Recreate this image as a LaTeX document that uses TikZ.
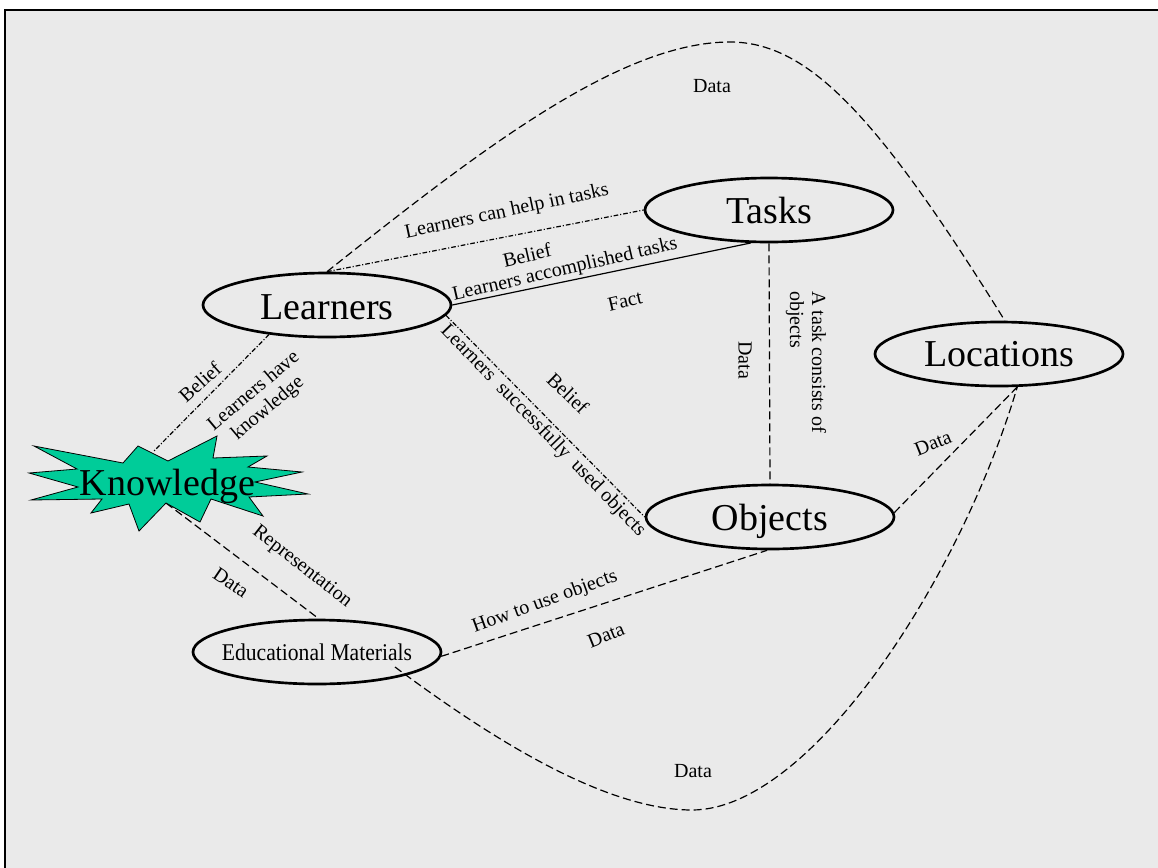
\documentclass[tikz,border=0pt]{standalone}
\usepackage{graphicx}
\usepackage{fontspec}
\setmainfont{Liberation Serif}
\usetikzlibrary{shapes.geometric}
\definecolor{bg}{RGB}{234,234,234}
\definecolor{kgreen}{RGB}{0,204,153}
\begin{document}
\begin{tikzpicture}[x=0.75pt,y=-0.75pt,
  ent/.style={draw, ellipse, line width=2pt, minimum width=186pt, minimum height=48pt, inner sep=0pt},
  bigtxt/.style={font=\fontsize{28.5}{30}\selectfont, inner sep=0pt},
  lbl/.style={font=\fontsize{15}{16.5}\selectfont, inner sep=0pt, align=center},
  conn/.style={line width=0.9pt},
  dsh/.style={conn, dash pattern=on 6pt off 3pt},
  dshdot/.style={conn, dash pattern=on 3.5pt off 1.5pt on 0.8pt off 1.5pt}
]
\useasboundingbox (0,0) rectangle (1158,868);
\fill[white] (0,0) rectangle (1158,868);
\fill[bg] (5,10) rectangle (1158,868);
\draw[line width=1.5pt] (5,868) -- (5,10) -- (1158,10);

% entity nodes
\node[ent, label={[bigtxt, yshift=-1.5pt]center:Learners}] (L) at (327,305) {};
\node[ent, label={[bigtxt]center:Tasks}] (T) at (769,210) {};
\node[ent, label={[bigtxt]center:Locations}] (Lo) at (999,354) {};
\node[ent, label={[bigtxt, yshift=-3pt]center:Objects}] (O) at (770,517) {};
\node[ent, label={[font=\fontsize{18}{20}\selectfont, inner sep=0pt]center:\scalebox{0.9}[1]{Educational Materials}}] (E) at (317,652) {};

% helper coordinates
\coordinate (ktop) at (153,452);
\coordinate (kbot) at (166,503);
\coordinate (emin) at (395,667);
\coordinate (ctop) at (730,42);
\coordinate (cbot) at (692,810);

% connectors
\draw[dshdot] (L.north) -- (T.west);
\draw[conn] (L.0) -- (T.241);
\draw[dshdot] (L.-5) -- (O.west);
\draw[dshdot] (L.207) -- (ktop);
\draw[dsh] (kbot) -- (E.87);
\draw[dsh] (E.-2) -- (O.265);
\draw[dsh] (T.south) -- (O.north);
\draw[dsh] (O.2) -- (Lo.-61);
\draw[dsh] (L.north) .. controls (480,150) and (620,42) .. (ctop) .. controls (810,42) and (880,120) .. (Lo.80);
\draw[dsh] (emin) .. controls (480,730) and (600,810) .. (cbot) .. controls (810,810) and (960,580) .. (Lo.-61);

% knowledge star
\draw[fill=kgreen, line width=0.6pt] (34,446) -- (123,463) -- (138,446) -- (168,461) -- (217,436) -- (213,458) -- (267,456) -- (248,467) -- (302,472) -- (255,482) -- (308,494) -- (249,497) -- (263,516) -- (211,499) -- (200,522) -- (166,503) -- (139,531) -- (129,504) -- (91,513) -- (102,499) -- (31,500) -- (78,487) -- (29,473) -- (77,469) -- cycle;
\node[bigtxt] (K) at (167.5,486) {Knowledge};

% labels
\node[lbl, rotate=12] (l1) at (507,212) {Learners can help in tasks};
\node[lbl, rotate=13] (l2) at (527,255) {Belief};
\node[lbl, rotate=13] (l3) at (565,270) {Learners accomplished tasks};
\node[lbl, rotate=13] (l4) at (625,301) {Fact};
\node[lbl, rotate=-46] (l5) at (543,431) {Learners\ \ successfully\ \ used objects};
\node[lbl, rotate=-44] (l6) at (568,393) {Belief};
\node[lbl, rotate=42] (l7) at (200,382) {Belief};
\node[lbl, rotate=40] (l8) at (261,400) {Learners have\\knowledge};
\node[lbl, rotate=-38] (l9) at (302,567) {Representation};
\node[lbl, rotate=-34] (l10) at (231,583) {Data};
\node[lbl, rotate=20] (l11) at (545,602) {How to use objects};
\node[lbl, rotate=22] (l12) at (606,635) {Data};
\node[lbl, rotate=-90] (l13) at (745,360) {Data};
\node[lbl, rotate=-90, align=left] (l14) at (806,362) {A task consists of\\objects};
\node[lbl, rotate=22] (l15) at (933,443) {Data};
\node[lbl] (l16) at (712,86) {Data};
\node[lbl] (l17) at (693,771) {Data};
\end{tikzpicture}
\end{document}
